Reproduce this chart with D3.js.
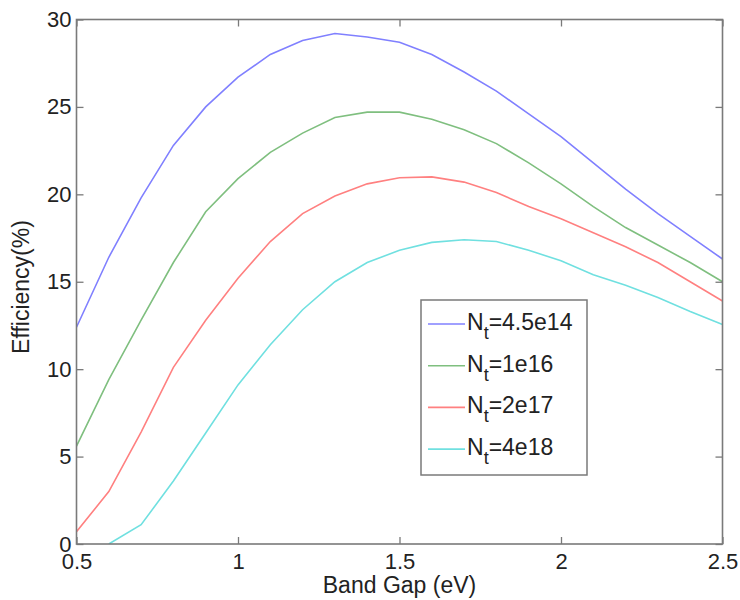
<!doctype html>
<html>
<head>
<meta charset="utf-8">
<script src="https://d3js.org/d3.v7.min.js"></script>
<style>
  body { margin: 0; background: #fff; }
  text { font-family: "Liberation Sans", Arial, sans-serif; fill: #222; }
</style>
</head>
<body>
<script>

// band gap (eV)
var bandGap = [0.5,0.6,0.7,0.8,0.9,1.0,1.1,1.2,1.3,1.4,1.5,1.6,1.7,1.8,1.9,2.0,2.1,2.2,2.3,2.4,2.5];

// efficiency (%) for each trap density
var effNt45e14 = [12.4,16.4,19.8,22.8,25.0,26.7,28.0,28.8,29.2,29.0,28.7,28.0,27.0,25.9,24.6,23.3,21.8,20.3,18.9,17.6,16.3];
var effNt1e16  = [5.6,9.4,12.8,16.1,19.0,20.9,22.4,23.5,24.4,24.7,24.7,24.3,23.7,22.9,21.8,20.6,19.3,18.1,17.1,16.1,15.0];
var effNt2e17  = [0.7,3.0,6.4,10.1,12.8,15.2,17.3,18.9,19.9,20.6,20.95,21.0,20.7,20.1,19.3,18.6,17.8,17.0,16.1,15.0,13.9];
var effNt4e18  = [null,0.0,1.1,3.6,6.35,9.1,11.4,13.4,15.0,16.1,16.8,17.25,17.4,17.3,16.8,16.2,15.4,14.8,14.1,13.3,12.55];

var seriesNames = ["4.5e14", "1e16", "2e17", "4e18"];
var seriesColors = ["#8080ff", "#7fbf7f", "#ff8080", "#70e0e0"];
var seriesData = [effNt45e14, effNt1e16, effNt2e17, effNt4e18];

var xTicks = [0.5, 1, 1.5, 2, 2.5];
var yTicks = [0, 5, 10, 15, 20, 25, 30];

function drawChart() {
  var width = 740, height = 600;
  var pl = 76.5, pr = 722.5, pt = 19.5, pb = 544;

  var svg = d3.select("body").append("svg")
      .attr("width", width).attr("height", height);

  var x = d3.scaleLinear().domain([0.5, 2.5]).range([pl, pr]);
  var y = d3.scaleLinear().domain([0, 30]).range([pb, pt]);

  svg.append("defs").append("clipPath").attr("id", "plotclip")
    .append("rect")
      .attr("x", pl).attr("y", pt)
      .attr("width", pr - pl).attr("height", pb - pt);

  // curves
  var line = d3.line()
      .defined(function(d) { return d[1] != null; })
      .x(function(d) { return x(d[0]); })
      .y(function(d) { return y(d[1]); });

  svg.append("g").attr("clip-path", "url(#plotclip)")
    .selectAll("path")
    .data(seriesData)
    .enter().append("path")
      .attr("d", function(s) { return line(bandGap.map(function(b, i) { return [b, s[i]]; })); })
      .style("fill", "none")
      .style("stroke", function(s, i) { return seriesColors[i]; })
      .style("stroke-width", 1.6);

  // axes, ticks pointing inwards
  function styleAxis(g) {
    g.select(".domain").remove();
    g.selectAll(".tick line").style("stroke", "#7a7a7a").style("stroke-width", 1.3);
    g.selectAll(".tick text").style("font-size", "22px").style("fill", "#222")
      .style("font-family", "'Liberation Sans', Arial, sans-serif");
  }

  svg.append("g").attr("transform", "translate(0," + pb + ")")
    .call(d3.axisBottom(x).tickValues(xTicks).tickFormat(d3.format("")).tickSizeInner(-7).tickSizeOuter(0).tickPadding(9))
    .call(styleAxis);
  svg.append("g").attr("transform", "translate(0," + pt + ")")
    .call(d3.axisTop(x).tickValues(xTicks).tickFormat("").tickSizeInner(-7).tickSizeOuter(0))
    .call(styleAxis);
  svg.append("g").attr("transform", "translate(" + pl + ",0)")
    .call(d3.axisLeft(y).tickValues(yTicks).tickSizeInner(-7).tickSizeOuter(0).tickPadding(5))
    .call(styleAxis);
  svg.append("g").attr("transform", "translate(" + pr + ",0)")
    .call(d3.axisRight(y).tickValues(yTicks).tickFormat("").tickSizeInner(-7).tickSizeOuter(0))
    .call(styleAxis);

  // box
  svg.append("rect")
      .attr("x", pl).attr("y", pt)
      .attr("width", pr - pl).attr("height", pb - pt)
      .style("fill", "none").style("stroke", "#7a7a7a").style("stroke-width", 1.6);

  // axis titles
  svg.append("text")
      .attr("x", (pl + pr) / 2).attr("y", 593)
      .attr("text-anchor", "middle")
      .style("font-size", "23px")
      .text("Band Gap (eV)");

  svg.append("text")
      .attr("transform", "translate(29,287) rotate(-90)")
      .attr("text-anchor", "middle")
      .style("font-size", "23px")
      .text("Efficiency(%)");

  // legend
  var legend = svg.append("g");
  legend.append("rect")
      .attr("x", 421).attr("y", 300)
      .attr("width", 166).attr("height", 175)
      .style("fill", "#fff").style("stroke", "#7a7a7a").style("stroke-width", 1.5);

  var item = legend.selectAll("g.item")
      .data(seriesNames)
    .enter().append("g")
      .attr("class", "item")
      .attr("transform", function(d, i) { return "translate(0," + (330 + i * 41.7) + ")"; });

  item.append("line")
      .attr("x1", 428).attr("x2", 465)
      .attr("y1", -6).attr("y2", -6)
      .style("stroke", function(d, i) { return seriesColors[i]; })
      .style("stroke-width", 1.6);

  var lt = item.append("text")
      .attr("x", 467)
      .style("font-size", "23px");
  lt.append("tspan").text("N");
  lt.append("tspan").attr("dy", 9).style("font-size", "18px").text("t");
  lt.append("tspan").attr("dy", -9).text(function(d) { return "=" + d; });
}

drawChart();

</script>
</body>
</html>
